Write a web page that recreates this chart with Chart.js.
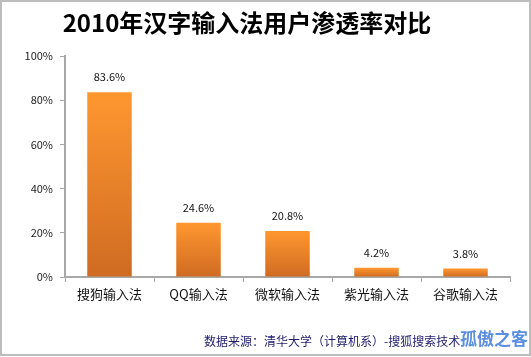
<!DOCTYPE html>
<html>
<head>
<meta charset="utf-8">
<script src="https://cdn.jsdelivr.net/npm/chart.js@4.4.0/dist/chart.umd.min.js"></script>
<style>
html,body{margin:0;padding:0;background:#fff;}
canvas{display:block;}
</style>
</head>
<body>
<canvas id="c" width="531" height="357"></canvas>
<script>
const titleText = '2010年汉字输入法用户渗透率对比';
const categories = ['搜狗输入法', 'QQ输入法', '微软输入法', '紫光输入法', '谷歌输入法'];
const penetration = [83.6, 24.6, 20.8, 4.2, 3.8];
const yTicks = [0, 20, 40, 60, 80, 100];
const sourceText = '数据来源：清华大学（计算机系）-搜狐搜索技术';
const watermarkText = '孤傲之客';

const FONT = '"Noto Sans CJK SC", "DejaVu Sans", sans-serif';

const decorPlugin = {
  id: 'decor',
  beforeDraw(chart) {
    const ctx = chart.ctx;
    ctx.save();
    ctx.fillStyle = '#fff';
    ctx.fillRect(0, 0, chart.width, chart.height);
    ctx.restore();
  },
  afterDraw(chart) {
    const ctx = chart.ctx;
    ctx.save();
    ctx.strokeStyle = '#bdbdbd';
    ctx.lineWidth = 2;
    ctx.strokeRect(1, 1, chart.width - 2, chart.height - 3);
    ctx.fillStyle = '#000';
    ctx.font = 'bold 24px ' + FONT;
    ctx.textAlign = 'center';
    ctx.textBaseline = 'middle';
    ctx.fillText(titleText, 247, 23);
    const meta = chart.getDatasetMeta(0);
    ctx.font = '11px ' + FONT;
    ctx.fillStyle = '#111';
    meta.data.forEach((bar, i) => {
      ctx.fillText(penetration[i].toFixed(1) + '%', bar.x, bar.y - 15);
    });
    ctx.textAlign = 'left';
    ctx.font = '12px ' + FONT;
    ctx.fillStyle = '#1c1c6a';
    ctx.fillText(sourceText, 204, 341);
    ctx.font = 'bold 17px ' + FONT;
    ctx.fillStyle = '#5a8ee0';
    ctx.textAlign = 'right';
    ctx.fillText(watermarkText, 528, 339);
    ctx.restore();
  }
};

function barGradient(context) {
  const chart = context.chart;
  const y = chart.scales.y;
  if (!y || context.dataIndex === undefined || !chart.chartArea) return '#f28a2a';
  const v = penetration[context.dataIndex];
  const top = y.getPixelForValue(v);
  const bottom = y.getPixelForValue(0);
  if (!isFinite(top) || !isFinite(bottom) || top === bottom) return '#f28a2a';
  const g = chart.ctx.createLinearGradient(0, top, 0, bottom);
  g.addColorStop(0, '#ff9730');
  g.addColorStop(1, '#cf6b22');
  return g;
}

new Chart(document.getElementById('c'), {
  type: 'bar',
  data: {
    labels: categories,
    datasets: [{
      data: penetration,
      backgroundColor: barGradient,
      borderWidth: 0,
      categoryPercentage: 1,
      barPercentage: 0.5
    }]
  },
  options: {
    responsive: false,
    animation: false,
    devicePixelRatio: 1,
    layout: { padding: { left: 0, right: 21, top: 56, bottom: 40 } },
    plugins: {
      legend: { display: false },
      title: { display: false },
      tooltip: { enabled: false }
    },
    scales: {
      y: {
        min: 0,
        max: 100,
        afterBuildTicks(scale) { scale.ticks = yTicks.map(v => ({ value: v })); },
        afterFit(scale) { scale.width = 65; },
        ticks: {
          callback: v => v + '%',
          color: '#222',
          font: { size: 11, family: FONT },
          padding: 7
        },
        grid: { drawOnChartArea: false, drawTicks: true, tickLength: 5, color: '#a8a8a8' },
        border: { color: '#a8a8a8', width: 2 }
      },
      x: {
        afterFit(scale) { scale.height = 40; },
        ticks: {
          color: '#111',
          font: { size: 13, family: FONT },
          padding: 4
        },
        grid: { offset: true, drawOnChartArea: false, drawTicks: true, tickLength: 5, color: '#a8a8a8' },
        border: { color: '#a8a8a8', width: 2 }
      }
    }
  },
  plugins: [decorPlugin]
});
</script>
</body>
</html>
